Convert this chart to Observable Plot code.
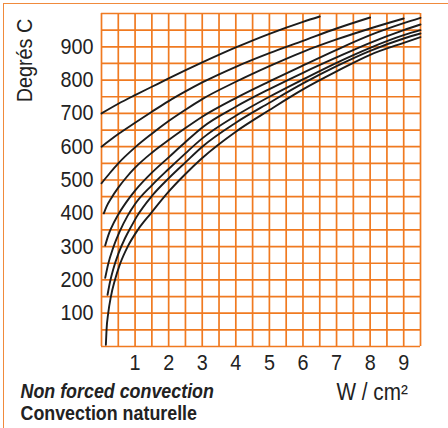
<!DOCTYPE html>
<html>
<head>
<meta charset="utf-8">
<script src="https://cdn.jsdelivr.net/npm/d3@7"></script>
<script src="https://cdn.jsdelivr.net/npm/@observablehq/plot@0.6"></script>
<style>
  html, body { margin: 0; padding: 0; background: #fff; }
  #wrap { position: relative; width: 448px; height: 428px; overflow: hidden; }
  #border { position: absolute; left: 3px; top: 3px; width: 460px; height: 440px;
            border-top: 1.4px solid #f08a3c; border-left: 1.4px solid #f08a3c; pointer-events: none; }
</style>
</head>
<body>
<div id="wrap"><div id="border"></div></div>
<script>
// Tick labels
const xTickValues = [1, 2, 3, 4, 5, 6, 7, 8, 9];
const yTickValues = [100, 200, 300, 400, 500, 600, 700, 800, 900];
// Grid lines (every 0.5 W/cm², every 50 °C)
const xGridValues = d3.range(0, 9.5001, 0.5);
const yGridValues = d3.range(0, 1000.01, 50);

// Curves: [W/cm², °C]
const curve700 = [[0,700],[0.5,729],[1,755],[1.5,780],[2,805],[3,853],[4,898],[5,939],[6,975],[6.5,991]];
const curve600 = [[0,600],[0.5,638],[1,672],[1.5,705],[2,737],[2.5,766],[3,793],[4,840],[5,881],[6,918],[7,955],[8,988]];
const curve490 = [[0,490],[0.25,521],[0.5,550],[1,598],[1.5,639],[2,677],[2.5,711],[3,743],[4,795],[5,842],[6,885],[7,922],[8,955],[9,985]];
const curve400 = [[0.07,400],[0.15,420],[0.3,447],[0.5,477],[0.75,509],[1,537],[1.5,582],[2,620],[2.5,656],[3,690],[4,746],[5,796],[6,844],[7,891],[8,935],[9,971],[9.5,987]];
const curve300 = [[0.11,303],[0.2,333],[0.3,358],[0.48,393],[0.75,435],[1,468],[1.5,522],[2,568],[2.5,614],[3,658],[4,720],[5,773],[6,822],[7,868],[8,912],[9,950],[9.5,967]];
const curve200 = [[0.11,206],[0.2,248],[0.35,297],[0.55,347],[0.78,393],[1,428],[1.5,484],[2,533],[2.5,580],[3,625],[4,693],[5,750],[6,802],[7,852],[8,897],[9,935],[9.5,950]];
const curve150 = [[0.18,155],[0.25,192],[0.35,232],[0.5,278],[0.7,325],[0.9,363],[1.05,390],[1.5,452],[2,505],[2.5,553],[3,600],[4,672],[5,732],[6,790],[7,842],[8,888],[9,925],[9.5,940]];
const curve0 = [[0.13,5],[0.15,50],[0.2,100],[0.28,150],[0.4,200],[0.56,250],[0.78,300],[1.08,350],[1.47,400],[2,465],[2.5,518],[3,566],[4,645],[5,710],[6,772],[7,826],[8,876],[9,912],[9.5,929]];

const curves = [curve700, curve600, curve490, curve400, curve300, curve200, curve150, curve0];

const orange = "#f07a20";
const FONT = "'Liberation Sans', Arial, Helvetica, sans-serif";

const chart = Plot.plot({
  width: 448,
  height: 428,
  marginLeft: 101,
  marginRight: 28,
  marginTop: 13,
  marginBottom: 82,
  style: { fontFamily: FONT, fontSize: "22px", color: "#222", background: "transparent" },
  x: { domain: [0, 9.5], ticks: xTickValues, tickSize: 0, tickPadding: 8, label: null },
  y: { domain: [0, 1000], ticks: yTickValues, tickSize: 0, tickPadding: 8, label: null },
  marks: [
    Plot.ruleX(xGridValues, { stroke: orange, strokeWidth: 1.7 }),
    Plot.ruleY(yGridValues, { stroke: orange, strokeWidth: 1.7 }),
    ...curves.map(c => Plot.line(c, { x: d => d[0], y: d => d[1], stroke: "#1c1c1c", strokeWidth: 1.9, curve: "monotone-x" })),
    Plot.text(["Degrés C"], { frameAnchor: "top-left", dx: -77, dy: 47, rotate: -90, fontSize: 22, textAnchor: "middle", lineAnchor: "middle", fill: "#222" }),
    Plot.text(["W / cm²"], { frameAnchor: "bottom-left", dx: 235, dy: 46, fontSize: 23, textAnchor: "start", lineAnchor: "middle", fill: "#222" }),
    Plot.text(["Non forced convection"], { frameAnchor: "bottom-left", dx: -81, dy: 45, fontSize: 21, fontWeight: "bold", fontStyle: "italic", textAnchor: "start", lineAnchor: "middle", fill: "#222" }),
    Plot.text(["Convection naturelle"], { frameAnchor: "bottom-left", dx: -81, dy: 67, fontSize: 21, fontWeight: "bold", textAnchor: "start", lineAnchor: "middle", fill: "#222" })
  ]
});
document.getElementById("wrap").appendChild(chart);
chart.style.position = "absolute";
chart.style.left = "0px";
chart.style.top = "0px";

// Condensed look: compress text horizontally (the reference uses a condensed face)
chart.querySelectorAll("text").forEach(t => {
  const L = t.getComputedTextLength();
  if (!L) return;
  const f = /Non forced|Convection/.test(t.textContent) ? 0.85 : 0.9;
  t.setAttribute("textLength", (L * f).toFixed(1));
  t.setAttribute("lengthAdjust", "spacingAndGlyphs");
});
</script>
</body>
</html>
